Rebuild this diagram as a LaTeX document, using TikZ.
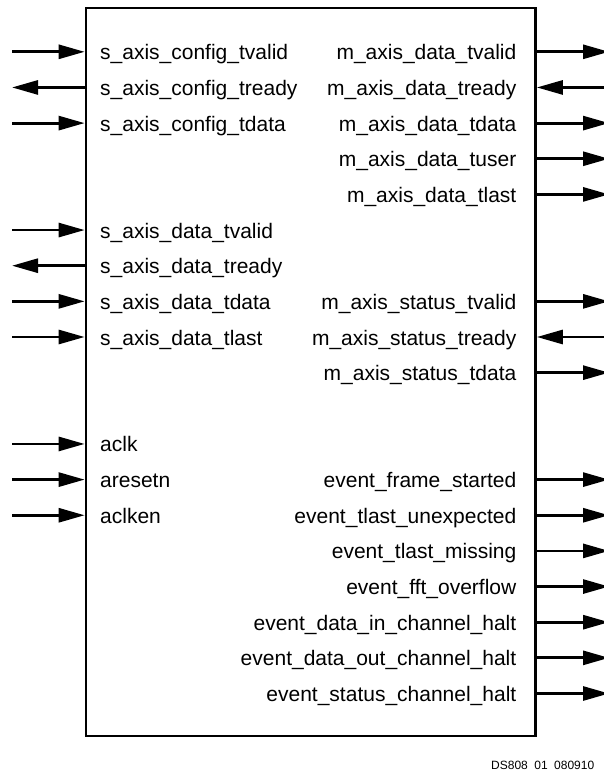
\documentclass[tikz,border=0pt]{standalone}
\usepackage{fontspec}
\setmainfont{Liberation Sans}
\usetikzlibrary{arrows.meta}
\tikzset{
  lbl/.style={inner sep=0pt, font=\fontsize{21}{25}\selectfont},
  tipend/.style={line width=2.8pt, -{Triangle[length=26pt,width=14pt]}},
  tipstart/.style={line width=2.8pt, {Triangle[length=26pt,width=14pt]}-},
  blockbox/.style={draw, line width=2.7pt, minimum width=449.5pt, minimum height=728pt, inner sep=0pt}
}
\begin{document}
\begin{tikzpicture}[x=1pt,y=1pt]
\useasboundingbox (0,0) rectangle (603,-771);
\node[blockbox] (blk) at (310.75,-372) {};
% left side signals
\foreach \i/\t/\s/\n in {
  0/s\_axis\_config\_tvalid/tipend/La,
  1/s\_axis\_config\_tready/tipstart/Lb,
  2/s\_axis\_config\_tdata/tipend/Lc,
  5/s\_axis\_data\_tvalid/tipend/Ld,
  6/s\_axis\_data\_tready/tipstart/Le,
  7/s\_axis\_data\_tdata/tipend/Lf,
  8/s\_axis\_data\_tlast/tipend/Lg,
  11/aclk/tipend/Lh,
  12/aresetn/tipend/Li,
  13/aclken/tipend/Lj}{
  \coordinate (\n x) at (12,{-(51.8+35.65*\i)});
  \coordinate (\n b) at (blk.west |- \n x);
  \node[lbl, anchor=base west] (\n) at (100,{-(51.8+35.65*\i)-8}) {\t};
  \draw[\s] (\n x) -- (\n b);
}
% right side signals
\foreach \i/\t/\s/\n in {
  0/m\_axis\_data\_tvalid/tipend/Ra,
  1/m\_axis\_data\_tready/tipstart/Rb,
  2/m\_axis\_data\_tdata/tipend/Rc,
  3/m\_axis\_data\_tuser/tipend/Rd,
  4/m\_axis\_data\_tlast/tipend/Re,
  7/m\_axis\_status\_tvalid/tipend/Rf,
  8/m\_axis\_status\_tready/tipstart/Rg,
  9/m\_axis\_status\_tdata/tipend/Rh,
  12/event\_frame\_started/tipend/Ri,
  13/event\_tlast\_unexpected/tipend/Rj,
  14/event\_tlast\_missing/tipend/Rk,
  15/event\_fft\_overflow/tipend/Rl,
  16/event\_data\_in\_channel\_halt/tipend/Rm,
  17/event\_data\_out\_channel\_halt/tipend/Rn,
  18/event\_status\_channel\_halt/tipend/Ro}{
  \coordinate (\n x) at (609,{-(51.8+35.65*\i)});
  \coordinate (\n b) at (blk.east |- \n x);
  \node[lbl, anchor=base east] (\n) at (516.5,{-(51.8+35.65*\i)-8}) {\t};
  \draw[\s] (\n b) -- (\n x);
}
\node[inner sep=0pt, anchor=base west, font=\fontsize{12}{14}\selectfont] (ref) at (491,-769.3) {DS808\hspace{6.5pt}01\hspace{6.5pt}080910};
\end{tikzpicture}
\end{document}
